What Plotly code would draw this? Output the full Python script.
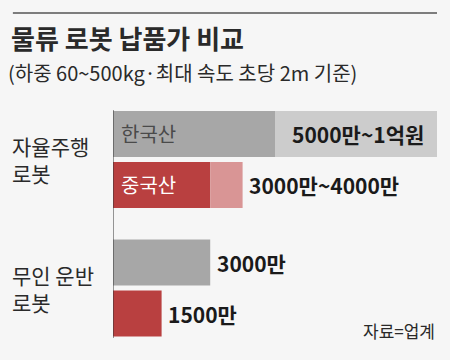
import plotly.graph_objects as go

groups = ["자율주행<br>로봇", "무인 운반<br>로봇"]
origins = ["한국산", "중국산"]
# price ranges in 만원 (low, high)
korea_low = [5000, 3000]
korea_high = [10000, 3000]
china_low = [3000, 1500]
china_high = [4000, 1500]
value_labels_korea = ["5000만~1억원", "3000만"]
value_labels_china = ["3000만~4000만", "1500만"]

BG = "#f6f6f6"
GRAY = "#a7a7a7"
GRAY_L = "#cccccc"
RED = "#b94040"
RED_L = "#d99595"
FONT = "Noto Sans CJK KR"

group_gap = 2.52
ypos_k = [g * group_gap for g in range(len(groups))]
ypos_c = [g * group_gap + 1.0 for g in range(len(groups))]
W = 0.9

fig = go.Figure()
fig.add_trace(go.Bar(orientation="h", y=ypos_k, x=korea_low, base=0, width=W,
                     marker=dict(color=GRAY, line_width=0), hoverinfo="skip"))
fig.add_trace(go.Bar(orientation="h", y=ypos_c, x=china_low, base=0, width=W,
                     marker=dict(color=RED, line_width=0), hoverinfo="skip"))
fig.add_trace(go.Bar(orientation="h", y=ypos_k,
                     x=[h - l for l, h in zip(korea_low, korea_high)], base=korea_low, width=W,
                     marker=dict(color=GRAY_L, line_width=0), hoverinfo="skip"))
fig.add_trace(go.Bar(orientation="h", y=ypos_c,
                     x=[h - l for l, h in zip(china_low, china_high)], base=china_low, width=W,
                     marker=dict(color=RED_L, line_width=0), hoverinfo="skip"))

VFONT = dict(family=FONT, size=21, color="#1a1a1a", weight="bold")
ann = []
for i in range(len(groups)):
    if i == 0:
        ann.append(dict(x=9650, y=ypos_k[i], text=value_labels_korea[i], xanchor="right",
                        showarrow=False, font=VFONT))
    else:
        ann.append(dict(x=korea_high[i] + 150, y=ypos_k[i], text=value_labels_korea[i], xanchor="left",
                        showarrow=False, font=VFONT))
    ann.append(dict(x=china_high[i] + 150, y=ypos_c[i], text=value_labels_china[i], xanchor="left",
                    showarrow=False, font=VFONT))
ann.append(dict(x=200, y=ypos_k[0], text=origins[0], xanchor="left", showarrow=False,
                font=dict(family=FONT, size=20, color="#4a4a4a")))
ann.append(dict(x=200, y=ypos_c[0], text=origins[1], xanchor="left", showarrow=False,
                font=dict(family=FONT, size=20, color="#ffffff")))
for i, g in enumerate(groups):
    ann.append(dict(xref="paper", x=-0.317, y=(ypos_k[i] + ypos_c[i]) / 2, text=g, xanchor="left",
                    align="left", showarrow=False,
                    font=dict(family=FONT, size=21, color="#2a2a2a")))
ann.append(dict(xref="paper", yref="paper", x=-0.322, y=1.32, xanchor="left", yanchor="middle",
                text="<b>물류 로봇 납품가 비교</b>", showarrow=False,
                font=dict(family=FONT, size=26, color="#2a2a2a")))
ann.append(dict(xref="paper", yref="paper", x=-0.33, y=1.165, xanchor="left", yanchor="middle",
                text="(하중 60~500kg·최대 속도 초당 2m 기준)", showarrow=False,
                font=dict(family=FONT, size=20, color="#2a2a2a")))
ann.append(dict(xref="paper", yref="paper", x=1.0, y=0.035, xanchor="right", yanchor="middle",
                text="자료=업계", showarrow=False,
                font=dict(family=FONT, size=17, color="#2a2a2a")))

fig.update_layout(
    width=450, height=360,
    margin=dict(l=113, r=13, t=110, b=22),
    paper_bgcolor=BG, plot_bgcolor=BG,
    barmode="overlay", showlegend=False,
    annotations=ann,
    shapes=[dict(type="line", xref="paper", yref="paper", x0=-0.309, x1=1.0, y0=1.425, y1=1.425,
                 line=dict(color="#555555", width=1.5)),
            dict(type="line", xref="x", yref="paper", x0=0, x1=0, y0=0, y1=1,
                 line=dict(color="#333333", width=1))],
    xaxis=dict(range=[0, 10000], visible=False, fixedrange=True),
    yaxis=dict(range=[4.0, -0.47], visible=False, fixedrange=True),
)

fig.write_html("out.html", config={"displayModeBar": False},
               post_script="document.body.style.margin='0';document.body.style.background='#f6f6f6';")
